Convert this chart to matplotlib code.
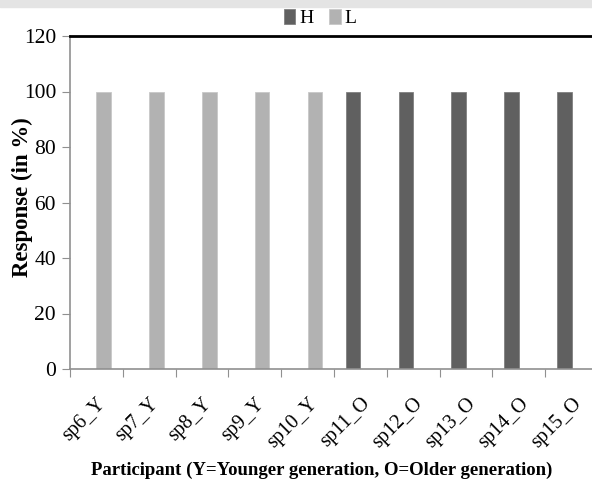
import matplotlib
matplotlib.use("Agg")
import matplotlib.pyplot as plt
import numpy as np

participants = ["sp6_Y", "sp7_Y", "sp8_Y", "sp9_Y", "sp10_Y",
                "sp11_O", "sp12_O", "sp13_O", "sp14_O", "sp15_O"]
h_values = [0, 0, 0, 0, 0, 100, 100, 100, 100, 100]
l_values = [100, 100, 100, 100, 100, 0, 0, 0, 0, 0]
y_ticks = [0, 20, 40, 60, 80, 100, 120]

plt.rcParams["font.family"] = ["Liberation Serif", "DejaVu Serif"]

W, H = 592, 482
fig = plt.figure(figsize=(W / 100, H / 100), dpi=100)
fig.patch.set_facecolor("white")

# faint grey band across the top edge
fig.patches.append(plt.Rectangle((0, 1 - 7 / H), 1, 7 / H, transform=fig.transFigure,
                                 color="#e4e4e4", zorder=0))

ax = fig.add_axes([70 / W, (H - 369) / H, (598 - 70) / W, (369 - 36) / H])

x = np.arange(len(participants))
bw = 0.275
ax.bar(x - bw / 2, h_values, bw, color="#606060", edgecolor="#808080", linewidth=0.6, label="H")
ax.bar(x + bw / 2, l_values, bw, color="#b2b2b2", edgecolor="#c8c8c8", linewidth=0.6, label="L")

ax.set_xlim(-0.5, len(participants) - 0.5)
ax.set_ylim(0, 120)
ax.set_yticks(y_ticks)
ax.set_yticklabels([str(v) for v in y_ticks], fontsize=15.5)

ax.set_xticks(np.arange(len(participants) + 1) - 0.5, minor=False)
ax.set_xticklabels([])
ax.set_xticks(x, minor=True)
ax.set_xticklabels(participants, minor=True, rotation=45, ha="right",
                   va="top", rotation_mode="anchor", fontsize=14.5)
ax.tick_params(axis="x", which="minor", length=0, pad=18)
ax.tick_params(axis="x", which="major", length=6, color="#909090", direction="out")
ax.tick_params(axis="y", length=6, color="#909090", direction="out", pad=4)

for side in ("left", "bottom"):
    ax.spines[side].set_color("#909090")
    ax.spines[side].set_linewidth(1.2)
ax.spines["right"].set_visible(False)
ax.spines["top"].set_color("black")
ax.spines["top"].set_linewidth(2)

fig.text(22 / W, 1 - 197 / H, "Response (in %)", rotation=90, ha="center",
         va="center", fontsize=16.5, fontweight="bold")
fig.text(322 / W, 1 - 470 / H, "Participant (Y=Younger generation, O=Older generation)",
         ha="center", va="center", fontsize=13.5, fontweight="bold")

leg = fig.legend(loc="center", bbox_to_anchor=(320 / W, 1 - 18 / H), ncol=2,
                 frameon=False, fontsize=14, handlelength=0.6, handleheight=0.8,
                 handletextpad=0.2, columnspacing=0.8, borderaxespad=0)

fig.savefig("out.png", dpi=100)
